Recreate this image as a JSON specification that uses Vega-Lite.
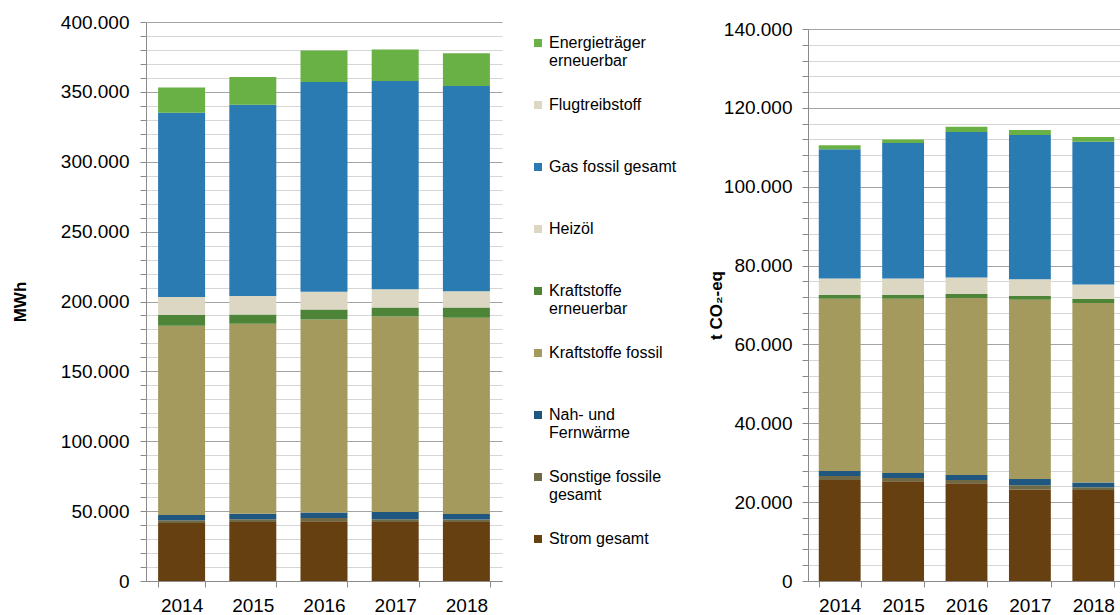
{
  "$schema": "https://vega.github.io/schema/vega-lite/v6.json",
  "padding": {"left": 11, "top": 13, "right": 0, "bottom": 0},
  "config": {
    "locale": {"number": {"decimal": ",", "thousands": ".", "grouping": [3], "currency": ["", " €"]}},
    "font": "Liberation Sans",
    "view": {"stroke": null},
    "axis": {
      "labelFont": "Liberation Sans", "labelFontSize": 19, "labelColor": "#000",
      "titleFont": "Liberation Sans", "titleFontSize": 17, "titleFontWeight": "bold", "titleColor": "#000",
      "domainColor": "#8a8a8a", "tickColor": "#8a8a8a"
    }
  },
  "data": {"values": [
    {"year": "2014", "cat": "Strom gesamt", "mwh": 41500, "tco2": 25600},
    {"year": "2014", "cat": "Sonstige fossile gesamt", "mwh": 2000, "tco2": 1000},
    {"year": "2014", "cat": "Nah- und Fernwärme", "mwh": 3800, "tco2": 1300},
    {"year": "2014", "cat": "Kraftstoffe fossil", "mwh": 135300, "tco2": 43700},
    {"year": "2014", "cat": "Kraftstoffe erneuerbar", "mwh": 7800, "tco2": 1000},
    {"year": "2014", "cat": "Heizöl", "mwh": 12900, "tco2": 4100},
    {"year": "2014", "cat": "Gas fossil gesamt", "mwh": 131800, "tco2": 32800},
    {"year": "2014", "cat": "Flugtreibstoff", "mwh": 0, "tco2": 0},
    {"year": "2014", "cat": "Energieträger erneuerbar", "mwh": 18100, "tco2": 1000},
    {"year": "2015", "cat": "Strom gesamt", "mwh": 42200, "tco2": 25300},
    {"year": "2015", "cat": "Sonstige fossile gesamt", "mwh": 2000, "tco2": 800},
    {"year": "2015", "cat": "Nah- und Fernwärme", "mwh": 4000, "tco2": 1300},
    {"year": "2015", "cat": "Kraftstoffe fossil", "mwh": 135800, "tco2": 44200},
    {"year": "2015", "cat": "Kraftstoffe erneuerbar", "mwh": 6700, "tco2": 1000},
    {"year": "2015", "cat": "Heizöl", "mwh": 13300, "tco2": 4100},
    {"year": "2015", "cat": "Gas fossil gesamt", "mwh": 136800, "tco2": 34400},
    {"year": "2015", "cat": "Flugtreibstoff", "mwh": 0, "tco2": 0},
    {"year": "2015", "cat": "Energieträger erneuerbar", "mwh": 19800, "tco2": 900},
    {"year": "2016", "cat": "Strom gesamt", "mwh": 42800, "tco2": 24800},
    {"year": "2016", "cat": "Sonstige fossile gesamt", "mwh": 2300, "tco2": 800},
    {"year": "2016", "cat": "Nah- und Fernwärme", "mwh": 3900, "tco2": 1300},
    {"year": "2016", "cat": "Kraftstoffe fossil", "mwh": 138100, "tco2": 44900},
    {"year": "2016", "cat": "Kraftstoffe erneuerbar", "mwh": 7200, "tco2": 1000},
    {"year": "2016", "cat": "Heizöl", "mwh": 12600, "tco2": 4200},
    {"year": "2016", "cat": "Gas fossil gesamt", "mwh": 150100, "tco2": 36900},
    {"year": "2016", "cat": "Flugtreibstoff", "mwh": 0, "tco2": 0},
    {"year": "2016", "cat": "Energieträger erneuerbar", "mwh": 22600, "tco2": 1300},
    {"year": "2017", "cat": "Strom gesamt", "mwh": 42200, "tco2": 23200},
    {"year": "2017", "cat": "Sonstige fossile gesamt", "mwh": 2000, "tco2": 1100},
    {"year": "2017", "cat": "Nah- und Fernwärme", "mwh": 5200, "tco2": 1600},
    {"year": "2017", "cat": "Kraftstoffe fossil", "mwh": 139900, "tco2": 45400},
    {"year": "2017", "cat": "Kraftstoffe erneuerbar", "mwh": 6400, "tco2": 1000},
    {"year": "2017", "cat": "Heizöl", "mwh": 13100, "tco2": 4200},
    {"year": "2017", "cat": "Gas fossil gesamt", "mwh": 148900, "tco2": 36600},
    {"year": "2017", "cat": "Flugtreibstoff", "mwh": 0, "tco2": 0},
    {"year": "2017", "cat": "Energieträger erneuerbar", "mwh": 22700, "tco2": 1300},
    {"year": "2018", "cat": "Strom gesamt", "mwh": 42200, "tco2": 23100},
    {"year": "2018", "cat": "Sonstige fossile gesamt", "mwh": 1800, "tco2": 700},
    {"year": "2018", "cat": "Nah- und Fernwärme", "mwh": 4000, "tco2": 1200},
    {"year": "2018", "cat": "Kraftstoffe fossil", "mwh": 140300, "tco2": 45500},
    {"year": "2018", "cat": "Kraftstoffe erneuerbar", "mwh": 7400, "tco2": 1100},
    {"year": "2018", "cat": "Heizöl", "mwh": 11700, "tco2": 3600},
    {"year": "2018", "cat": "Gas fossil gesamt", "mwh": 146800, "tco2": 36200},
    {"year": "2018", "cat": "Flugtreibstoff", "mwh": 0, "tco2": 0},
    {"year": "2018", "cat": "Energieträger erneuerbar", "mwh": 23400, "tco2": 1200}
  ]},
  "spacing": 17,
  "resolve": {"scale": {"color": "shared"}, "legend": {"color": "independent"}},
  "hconcat": [
    {
      "width": 356, "height": 559,
      "mark": {"type": "bar"},
      "encoding": {
        "x": {"field": "year", "type": "ordinal",
          "scale": {"paddingInner": 0.34, "paddingOuter": 0.17},
          "axis": {"title": null, "labelAngle": 0, "tickBand": "extent", "tickSize": 6, "labelPadding": 9, "grid": false}},
        "y": {"field": "mwh", "type": "quantitative", "stack": "zero",
          "scale": {"domain": [0, 400000], "nice": false},
          "axis": {"title": "MWh", "format": ",d",
            "values": [0,10000,20000,30000,40000,50000,60000,70000,80000,90000,100000,110000,120000,130000,140000,150000,160000,170000,180000,190000,200000,210000,220000,230000,240000,250000,260000,270000,280000,290000,300000,310000,320000,330000,340000,350000,360000,370000,380000,390000,400000],
            "labelExpr": "datum.value % 50000 === 0 ? datum.label : ''",
            "labelOverlap": false, "tickSize": 6, "labelPadding": 11, "titlePadding": 31,
            "grid": true,
            "gridColor": {"condition": {"test": "datum.value % 50000 === 0", "value": "#a3a3a3"}, "value": "#d6d6d6"}}},
        "color": {"field": "cat", "type": "nominal",
          "scale": {
            "domain": ["Energieträger erneuerbar", "Flugtreibstoff", "Gas fossil gesamt", "Heizöl", "Kraftstoffe erneuerbar", "Kraftstoffe fossil", "Nah- und Fernwärme", "Sonstige fossile gesamt", "Strom gesamt"],
            "range": ["#69b045", "#ddd8c3", "#2b7bb3", "#dcd7c2", "#4e8437", "#a49a5e", "#1f5781", "#6f6a45", "#674012"]},
          "legend": {"title": null, "orient": "right", "offset": 15, "padding": 13,
            "symbolType": "square", "symbolSize": 64, "symbolStrokeWidth": 0,
            "labelFont": "Liberation Sans", "labelFontSize": 16, "labelColor": "#000",
            "labelOffset": 3, "labelLimit": 220, "gridAlign": "all", "rowPadding": 28,
            "labelExpr": "datum.label === 'Energieträger erneuerbar' ? ['Energieträger', 'erneuerbar'] : datum.label === 'Kraftstoffe erneuerbar' ? ['Kraftstoffe', 'erneuerbar'] : datum.label === 'Nah- und Fernwärme' ? ['Nah- und', 'Fernwärme'] : datum.label === 'Sonstige fossile gesamt' ? ['Sonstige fossile', 'gesamt'] : datum.label"}},
        "order": {"field": "cat", "sort": "descending"}
      }
    },
    {
      "spacing": 6,
      "bounds": "flush",
      "vconcat": [
        {
          "width": 317, "height": 1,
          "data": {"values": []},
          "mark": {"type": "rule"},
          "encoding": {}
        },
        {
          "width": 317, "height": 552,
          "mark": {"type": "bar"},
          "encoding": {
            "x": {"field": "year", "type": "ordinal",
              "scale": {"paddingInner": 0.34, "paddingOuter": 0.17},
              "axis": {"title": null, "labelAngle": 0, "tickBand": "extent", "tickSize": 6, "labelPadding": 9, "grid": false}},
            "y": {"field": "tco2", "type": "quantitative", "stack": "zero",
              "scale": {"domain": [0, 140000], "nice": false},
              "axis": {"title": "t CO₂-eq", "format": ",d",
                "values": [0,4000,8000,12000,16000,20000,24000,28000,32000,36000,40000,44000,48000,52000,56000,60000,64000,68000,72000,76000,80000,84000,88000,92000,96000,100000,104000,108000,112000,116000,120000,124000,128000,132000,136000,140000],
                "labelExpr": "datum.value % 20000 === 0 ? datum.label : ''",
                "labelOverlap": false, "tickSize": 6, "labelPadding": 10, "titlePadding": -2,
                "grid": true,
                "gridColor": {"condition": {"test": "datum.value % 20000 === 0", "value": "#a3a3a3"}, "value": "#d6d6d6"}}},
            "color": {"field": "cat", "type": "nominal", "legend": null},
            "order": {"field": "cat", "sort": "descending"}
          }
        }
      ]
    }
  ]
}
